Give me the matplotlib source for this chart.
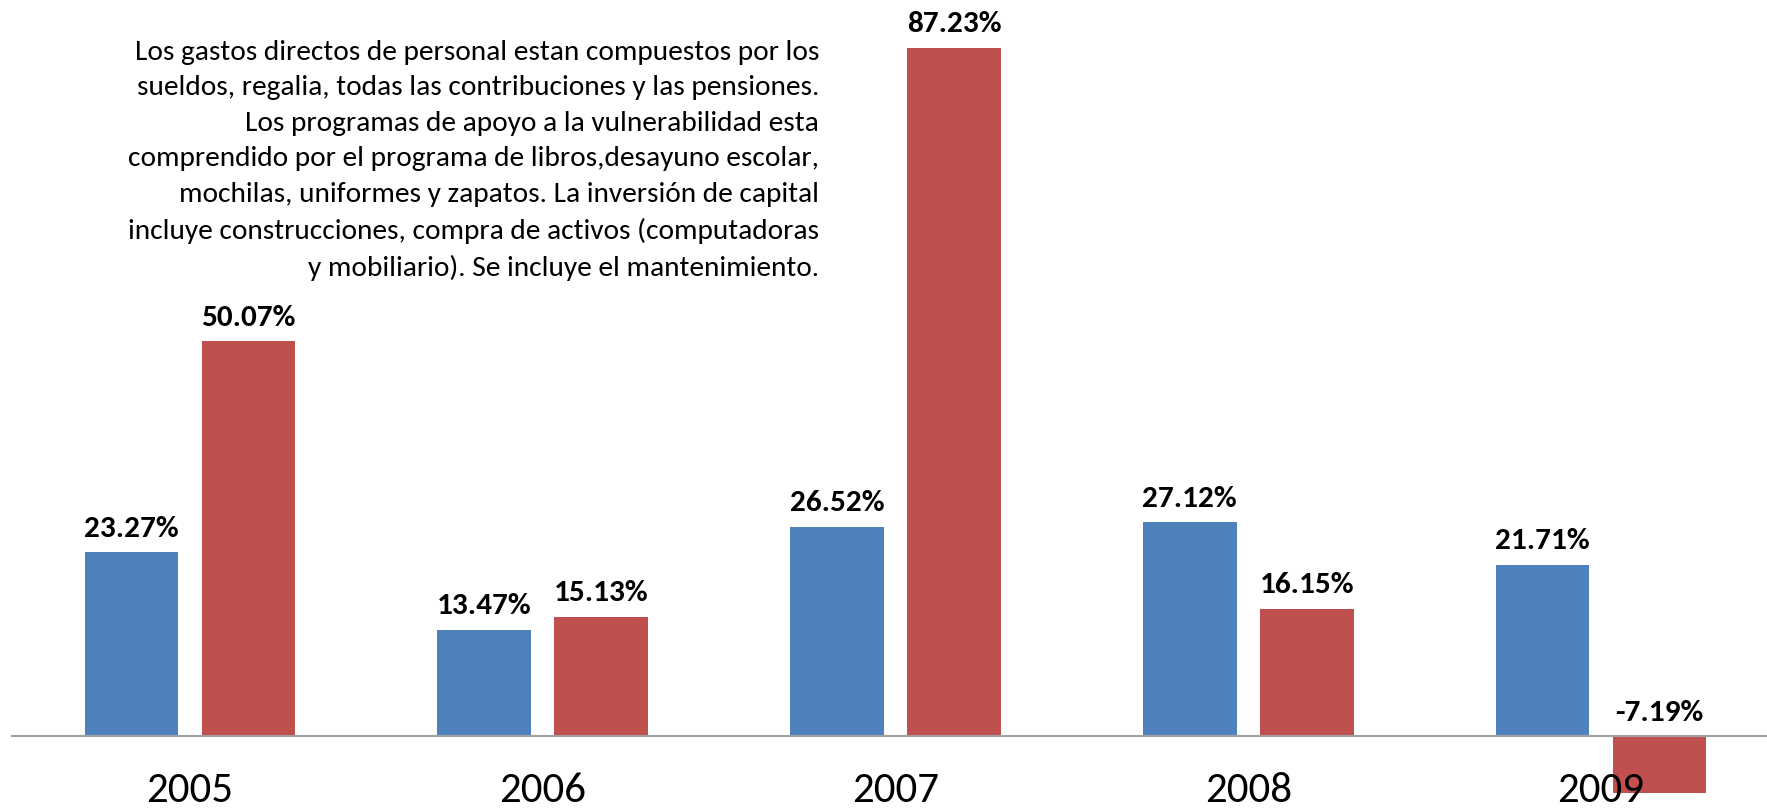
import numpy as np
import matplotlib.pyplot as plt

years = ['2005', '2006', '2007', '2008', '2009']
blue_vals = [23.27, 13.47, 26.52, 27.12, 21.71]
red_vals = [50.07, 15.13, 87.23, 16.15, -7.19]
note = ("Los gastos directos de personal estan compuestos por los\n"
        "sueldos, regalia, todas las contribuciones y las pensiones.\n"
        "Los programas de apoyo a la vulnerabilidad esta\n"
        "comprendido por el programa de libros,desayuno escolar,\n"
        "mochilas, uniformes y zapatos. La inversión de capital\n"
        "incluye construcciones, compra de activos (computadoras\n"
        "y mobiliario). Se incluye el mantenimiento.")

plt.rcParams['font.family'] = ['Carlito', 'DejaVu Sans']

W, H = 1767, 809
fig = plt.figure(figsize=(W / 100, H / 100), dpi=100)
ax = fig.add_axes([12 / W, 0, 1 - 12 / W, 1])

x = np.arange(len(years))
w = 0.265
off = 0.166
ax.bar(x - off, blue_vals, w, color='#4F81BD')
ax.bar(x + off, red_vals, w, color='#C0504D')

ax.set_xlim(-0.504, 4.47)
ax.set_ylim(-9.25, 93.28)

# value labels sit above the bar, or above the axis for negative values
for xs, vals in [(x - off, blue_vals), (x + off, red_vals)]:
  for xi, v in zip(xs, vals):
    ax.annotate('%.2f%%' % v, (xi, max(v, 0)), xytext=(0, 11), textcoords='offset points',
                ha='center', va='baseline', fontsize=22.5, fontweight='bold')

for s in ['top', 'left', 'right']:
  ax.spines[s].set_visible(False)
ax.spines['bottom'].set_position(('data', 0))
ax.spines['bottom'].set_color('#A0A0A0')
ax.spines['bottom'].set_linewidth(1.5)
ax.set_yticks([])
ax.set_xticks(x)
ax.set_xticklabels(years, fontsize=31)
ax.tick_params(axis='x', length=0, pad=26)

fig.text(819 / W, 1 - 40 / H, note, ha='right', va='top', multialignment='right',
         fontsize=21.2, linespacing=1.52)

fig.savefig('out.png', dpi=100)
